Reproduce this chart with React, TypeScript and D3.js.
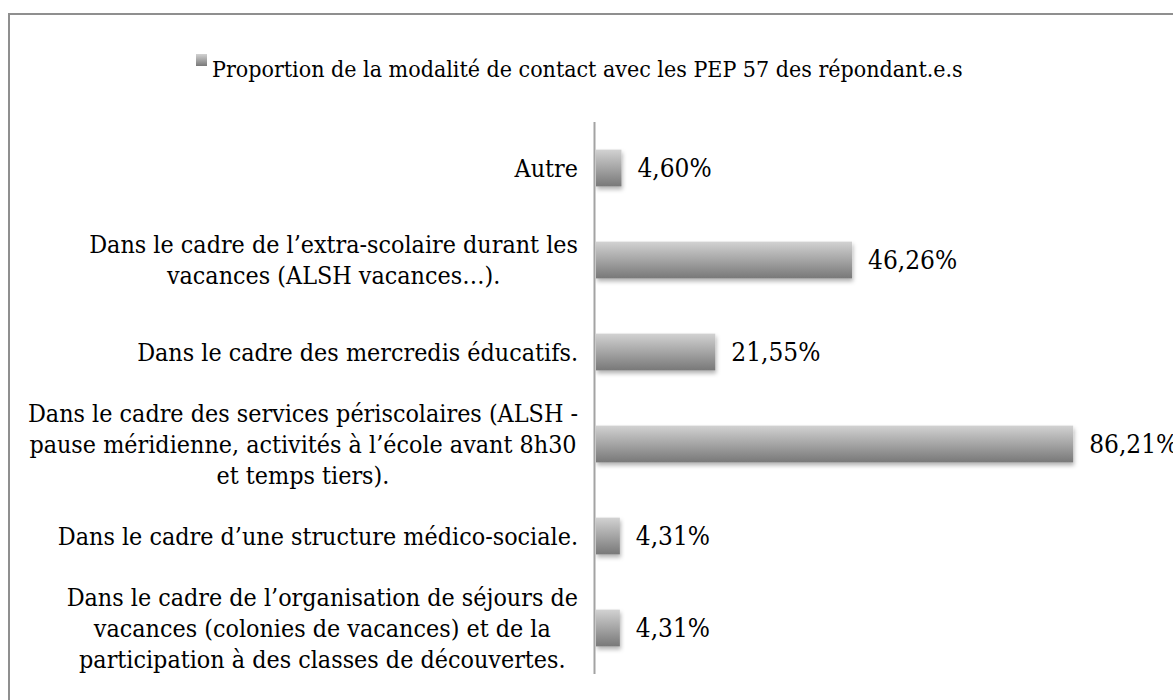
import React, { useEffect, useRef } from "react";
import * as d3 from "d3";

const categories: string[][] = [
  ["Autre"],
  ["Dans le cadre de l’extra-scolaire durant les", "vacances (ALSH vacances…)."],
  ["Dans le cadre des mercredis éducatifs."],
  ["Dans le cadre des services périscolaires (ALSH -", "pause méridienne, activités à l’école avant 8h30", "et temps tiers)."],
  ["Dans le cadre d’une structure médico-sociale."],
  ["Dans le cadre de l’organisation de séjours de", "vacances (colonies de vacances) et de la", "participation à des classes de découvertes."],
];
const values: number[] = [0.046, 0.4626, 0.2155, 0.8621, 0.0431, 0.0431];
const valueLabels: string[] = ["4,60%", "46,26%", "21,55%", "86,21%", "4,31%", "4,31%"];
const legendLabel = "Proportion de la modalité de contact avec les PEP 57 des répondant.e.s";

const W = 1173;
const H = 700;
const FONT = "'DejaVu Serif Condensed', 'DejaVu Serif', serif";

export default function App() {
  const ref = useRef<SVGSVGElement | null>(null);

  useEffect(() => {
    const svg = d3.select(ref.current);
    svg.selectAll("*").remove();

    const defs = svg.append("defs");
    const grad = defs.append("linearGradient").attr("id", "barGrad").attr("x1", 0).attr("y1", 0).attr("x2", 0).attr("y2", 1);
    grad.append("stop").attr("offset", "0%").attr("stop-color", "#d2d2d2");
    grad.append("stop").attr("offset", "100%").attr("stop-color", "#787878");
    const f = defs.append("filter").attr("id", "shadow").attr("x", "-10%").attr("y", "-20%").attr("width", "130%").attr("height", "160%");
    f.append("feDropShadow").attr("dx", 1).attr("dy", 3).attr("stdDeviation", 2).attr("flood-color", "#000").attr("flood-opacity", 0.3);

    svg.append("rect").attr("x", 0).attr("y", 0).attr("width", W).attr("height", H).attr("fill", "#fff");
    svg.append("rect").attr("x", 9).attr("y", 14).attr("width", W + 50).attr("height", H + 50)
      .attr("fill", "none").attr("stroke", "#8f8f8f").attr("stroke-width", 2);

    const idx = categories.map((_, i) => String(i));
    const y = d3.scaleBand<string>().domain(idx).range([122, 674]).paddingInner(0.6).paddingOuter(0.3);
    const x = d3.scaleLinear().domain([0, 1]).range([596, 1149.5]);

    // legend (font size fitted so the legend spans its width in the reference)
    const lg = svg.append("g");
    lg.append("rect").attr("x", 196).attr("y", 54).attr("width", 11).attr("height", 12).attr("fill", "url(#barGrad)");
    const lt = lg.append("text").attr("x", 212).attr("y", 77).attr("font-family", FONT).attr("font-size", 20).attr("fill", "#000").text(legendLabel);
    const w20 = (lt.node() as SVGTextElement).getComputedTextLength();
    const FS = 20 * 751 / w20;
    lt.attr("font-size", FS);
    const FSL = FS * 1.08;
    const FSV = FS * 1.13;

    // bars
    svg.append("g").selectAll("rect").data(values).join("rect")
      .attr("x", x(0))
      .attr("y", (_, i) => y(String(i))!)
      .attr("width", (d) => x(d) - x(0))
      .attr("height", y.bandwidth())
      .attr("fill", "url(#barGrad)")
      .attr("filter", "url(#shadow)");

    // axis line
    svg.append("line").attr("x1", 594.5).attr("x2", 594.5).attr("y1", 122).attr("y2", 674)
      .attr("stroke", "#a3a3a3").attr("stroke-width", 2);

    // value labels
    svg.append("g").selectAll("text").data(values).join("text")
      .attr("x", (d) => x(d) + 16)
      .attr("y", (_, i) => y(String(i))! + y.bandwidth() / 2)
      .attr("dy", "0.35em")
      .attr("font-family", FONT).attr("font-size", FSV).attr("fill", "#000")
      .text((_, i) => valueLabels[i]);

    // category labels
    const lineH = 31;
    const right = 578;
    categories.forEach((lines, i) => {
      const cy = y(String(i))! + y.bandwidth() / 2;
      const g = svg.append("g");
      const texts = lines.map((ln, j) =>
        g.append("text")
          .attr("y", cy + (j - (lines.length - 1) / 2) * lineH)
          .attr("dy", "0.35em")
          .attr("text-anchor", "middle")
          .attr("font-family", FONT).attr("font-size", FSL).attr("fill", "#000")
          .text(ln)
      );
      const maxW = d3.max(texts, (t) => (t.node() as SVGTextElement).getComputedTextLength()) || 0;
      texts.forEach((t) => t.attr("x", right - maxW / 2));
    });
  }, []);

  return <svg ref={ref} width={W} height={H} style={{ display: "block", position: "absolute", left: 0, top: 0 }} />;
}
